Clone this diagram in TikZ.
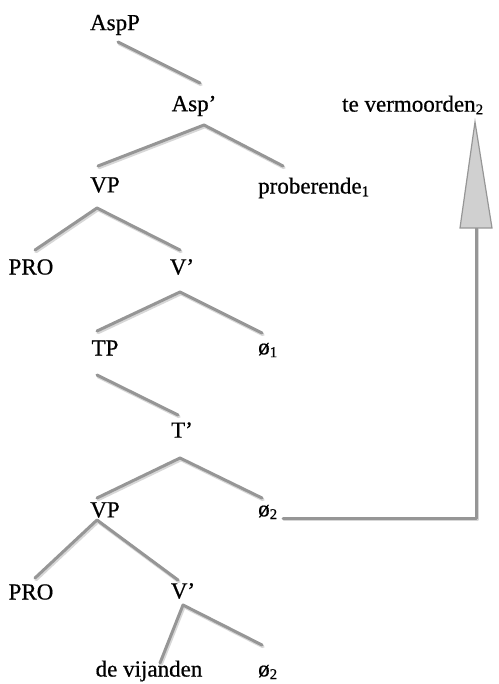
\documentclass[tikz,border=0pt]{standalone}
\usepackage{fontspec}
\setmainfont{Liberation Serif}
\newfontfamily\lblfont{Liberation Serif}[FakeBold=0.6]
\definecolor{branch}{RGB}{150,150,150}
\definecolor{shade}{RGB}{215,215,215}
\definecolor{arrowfill}{RGB}{208,208,208}
\newcommand{\lowsub}[1]{\raisebox{-0.12em}{\fontsize{15}{16}\selectfont #1}}
\begin{document}
\begin{tikzpicture}[x=1pt,y=-1pt,
  lbl/.style={inner sep=0pt,font=\lblfont\fontsize{23}{26}\selectfont,text=black},
  branchline/.style={draw=branch,line width=3pt,line cap=round,line join=round},
  shadowline/.style={draw=shade,line width=3.5pt,line cap=round,line join=round,transform canvas={shift={(1pt,-1.5pt)}}}
]
\useasboundingbox[fill=white] (0,0) rectangle (498,684);

% labels
\node[lbl] (AspP) at (115,25) {AspP};
\node[lbl] (Aspbar) at (194,106) {Asp’};
\node[lbl,anchor=west] (tevermoorden) at (342,105) {te vermoorden\lowsub{2}};
\node[lbl] (VPa) at (105,185) {VP};
\node[lbl,anchor=west] (proberende) at (258,188) {proberende\lowsub{1}};
\node[lbl] (PROa) at (31,267) {PRO};
\node[lbl] (Vbara) at (182,267) {V’};
\node[lbl] (TP) at (105,348) {TP};
\node[lbl,anchor=west] (nulla) at (258,350) {ø\lowsub{1}};
\node[lbl] (Tbar) at (182,430) {T’};
\node[lbl] (VPb) at (105,510) {VP};
\node[lbl,anchor=west] (nullb) at (258,512) {ø\lowsub{2}};
\node[lbl] (PROb) at (31,592) {PRO};
\node[lbl] (Vbarb) at (183,591) {V’};
\node[lbl] (devijanden) at (149,671) {de vijanden};
\node[lbl,anchor=west] (nullc) at (258,672) {ø\lowsub{2}};

% branch end points
\coordinate (AspP-d) at (118,42);
\coordinate (Aspbar-u) at (200,83);
\coordinate (Aspbar-d) at (204,125);
\coordinate (VPa-u) at (98,166);
\coordinate (proberende-u) at (283,166);
\coordinate (VPa-d) at (97,208);
\coordinate (PROa-u) at (35,250);
\coordinate (Vbara-u) at (180,250);
\coordinate (Vbara-d) at (180,292);
\coordinate (TP-u) at (97,331);
\coordinate (nulla-u) at (262,333);
\coordinate (TP-d) at (97,375);
\coordinate (Tbar-u) at (178,415);
\coordinate (Tbar-d) at (180,458);
\coordinate (VPb-u) at (97,498);
\coordinate (nullb-u) at (262,498);
\coordinate (VPb-d) at (97,520);
\coordinate (PROb-u) at (35,578);
\coordinate (Vbarb-u) at (178,580);
\coordinate (Vbarb-d) at (183,605);
\coordinate (devijanden-u) at (160,663);
\coordinate (nullc-u) at (262,645);
\coordinate (move-s) at (283,518);
\coordinate (move-c) at (476,518);
\coordinate (move-b) at (476,228);
\coordinate (tipL) at (460,228);
\coordinate (tipR) at (492,228);
\coordinate (tipT) at (475,122);

% shadows
\foreach \p/\q in {AspP-d/Aspbar-u, TP-d/Tbar-u}
  \path[shadowline] (\p) -- (\q);
\foreach \a/\l/\r in {Aspbar-d/VPa-u/proberende-u, VPa-d/PROa-u/Vbara-u, Vbara-d/TP-u/nulla-u, Tbar-d/VPb-u/nullb-u, VPb-d/PROb-u/Vbarb-u, Vbarb-d/devijanden-u/nullc-u}
  \path[shadowline] (\l) -- (\a) -- (\r);
\path[shadowline] (move-s) -- (move-c) -- (move-b);

% branches
\foreach \p/\q in {AspP-d/Aspbar-u, TP-d/Tbar-u}
  \path[branchline] (\p) -- (\q);
\foreach \a/\l/\r in {Aspbar-d/VPa-u/proberende-u, VPa-d/PROa-u/Vbara-u, Vbara-d/TP-u/nulla-u, Tbar-d/VPb-u/nullb-u, VPb-d/PROb-u/Vbarb-u, Vbarb-d/devijanden-u/nullc-u}
  \path[branchline] (\l) -- (\a) -- (\r);

% movement arrow
\path[branchline] (move-s) -- (move-c) -- (move-b);
\path[draw=branch,fill=arrowfill,line width=1.2pt,line join=miter] (tipL) -- (tipT) -- (tipR) -- cycle;
\end{tikzpicture}
\end{document}
